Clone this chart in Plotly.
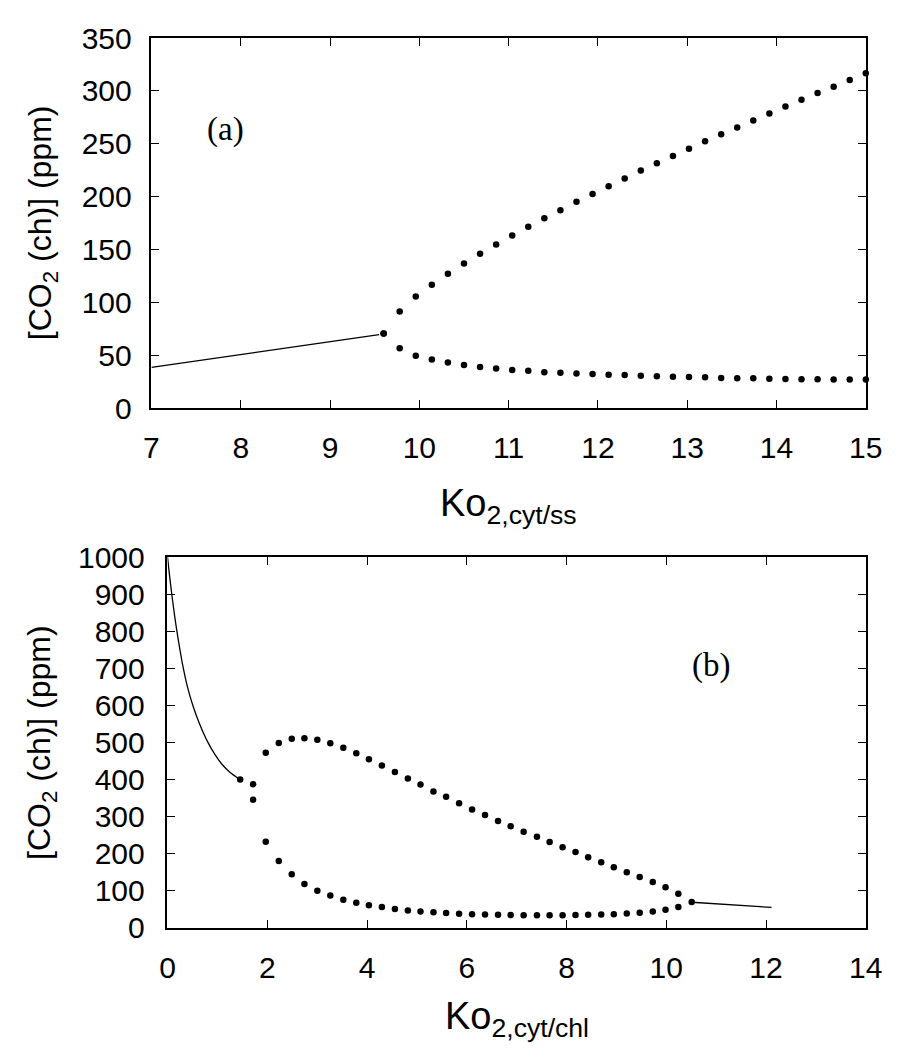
import plotly.graph_objects as go

W, H = 911, 1061

# ---------------- Panel (a) data ----------------
a_line_x = [7.0, 8.0, 9.0, 9.55]
a_line_y = [38.5, 50.6, 62.7, 69.4]

a_branch_x = [9.60, 9.78, 9.96, 10.14, 10.32, 10.50, 10.68, 10.86, 11.04, 11.22,
              11.40, 11.58, 11.76, 11.94, 12.12, 12.30, 12.48, 12.66, 12.84, 13.02,
              13.20, 13.38, 13.56, 13.74, 13.92, 14.10, 14.28, 14.46, 14.64, 14.82, 15.00]
a_upper_y = [70.5, 91.2, 105.5, 116.7, 127.1, 136.8, 145.9, 154.7, 163.2, 171.4,
             179.6, 187.2, 195.1, 202.4, 209.7, 217.0, 224.6, 231.6, 238.3, 245.3,
             252.3, 259.0, 265.3, 272.0, 278.7, 285.1, 291.5, 297.9, 303.9, 310.3, 316.7]
a_lower_y = [70.5, 56.6, 49.5, 45.9, 43.1, 40.7, 38.8, 37.3, 36.1, 35.2,
             33.9, 33.3, 32.7, 32.1, 31.5, 31.2, 30.6, 30.0, 29.7, 29.4,
             29.1, 28.4, 28.1, 28.1, 27.8, 27.5, 27.2, 27.2, 26.9, 26.9, 26.9]

# ---------------- Panel (b) data ----------------
b_curve_x = [0.0, 0.05, 0.10, 0.15, 0.20, 0.25, 0.30, 0.40, 0.52, 0.65, 0.80, 0.95, 1.10, 1.25, 1.457]
b_curve_y = [1000, 940, 885, 835, 790, 750, 712, 650, 595, 548, 503, 468, 440, 420, 400]

b_tail_x = [10.51, 11.0, 11.5, 12.11]
b_tail_y = [69.0, 64.5, 60.0, 55.0]

b_branch_x = [1.717, 1.970, 2.231, 2.491, 2.745, 3.004, 3.264, 3.525, 3.785, 4.038,
              4.298, 4.559, 4.819, 5.072, 5.332, 5.586, 5.846, 6.106, 6.366, 6.627,
              6.880, 7.140, 7.407, 7.661, 7.921, 8.180, 8.434, 8.695, 8.948, 9.208,
              9.467, 9.729, 9.985, 10.242]
b_upper_y = [387.3, 472.6, 498.7, 510.0, 511.7, 507.4, 497.9, 485.6, 470.8, 455.1,
             437.7, 420.4, 402.9, 386.4, 368.1, 353.4, 336.0, 319.4, 304.6, 288.0,
             274.2, 259.4, 245.4, 231.5, 217.6, 204.5, 190.6, 176.7, 163.6, 150.3,
             137.1, 124.0, 109.7, 92.0]
b_lower_y = [345.5, 232.4, 180.2, 144.5, 118.4, 100.0, 87.0, 76.0, 68.0, 61.0,
             56.0, 51.0, 47.0, 44.0, 42.0, 40.0, 38.0, 37.0, 36.0, 35.0,
             34.5, 34.0, 34.0, 34.0, 34.0, 34.5, 35.0, 36.0, 37.0, 39.0,
             41.0, 44.0, 49.0, 56.0]
b_bif_x = [1.457, 10.509]
b_bif_y = [400.0, 69.6]

a_xticks = [7, 8, 9, 10, 11, 12, 13, 14, 15]
a_yticks = [0, 50, 100, 150, 200, 250, 300, 350]
b_xticks = [0, 2, 4, 6, 8, 10, 12, 14]
b_yticks = [0, 100, 200, 300, 400, 500, 600, 700, 800, 900, 1000]

FONT = "Liberation Sans, Arial, Helvetica, sans-serif"
SERIF = "Liberation Serif, Times New Roman, serif"
TICKFONT = dict(family=FONT, size=30, color="black")
LINE = dict(color="black", width=1.3)
MARK = dict(color="black", size=6.5, symbol="circle")


def px_x(p):
    return p / W


def px_y(p):
    return 1 - p / H


fig = go.Figure()

# panel (a)
fig.add_trace(go.Scatter(x=a_line_x, y=a_line_y, mode="lines", line=LINE,
                         xaxis="x", yaxis="y", showlegend=False))
fig.add_trace(go.Scatter(x=a_branch_x, y=a_upper_y, mode="markers", marker=MARK,
                         xaxis="x", yaxis="y", showlegend=False, cliponaxis=False))
fig.add_trace(go.Scatter(x=a_branch_x, y=a_lower_y, mode="markers", marker=MARK,
                         xaxis="x", yaxis="y", showlegend=False, cliponaxis=False))

# panel (b)
fig.add_trace(go.Scatter(x=b_curve_x, y=b_curve_y, mode="lines",
                         line=dict(color="black", width=1.3, shape="spline", smoothing=0.8),
                         xaxis="x2", yaxis="y2", showlegend=False))
fig.add_trace(go.Scatter(x=b_tail_x, y=b_tail_y, mode="lines", line=LINE,
                         xaxis="x2", yaxis="y2", showlegend=False))
fig.add_trace(go.Scatter(x=b_branch_x, y=b_upper_y, mode="markers", marker=MARK,
                         xaxis="x2", yaxis="y2", showlegend=False, cliponaxis=False))
fig.add_trace(go.Scatter(x=b_branch_x, y=b_lower_y, mode="markers", marker=MARK,
                         xaxis="x2", yaxis="y2", showlegend=False, cliponaxis=False))
fig.add_trace(go.Scatter(x=b_bif_x, y=b_bif_y, mode="markers", marker=MARK,
                         xaxis="x2", yaxis="y2", showlegend=False, cliponaxis=False))

axis_common = dict(showline=True, linecolor="black", linewidth=1.5, mirror="ticks",
                   ticks="inside", ticklen=8, tickwidth=1, tickcolor="black",
                   showgrid=False, zeroline=False, tickfont=TICKFONT,
                   ticklabelstandoff=12)

fig.update_layout(
    width=W, height=H,
    margin=dict(l=0, r=0, t=0, b=0),
    paper_bgcolor="white", plot_bgcolor="white",
    xaxis=dict(axis_common, domain=[px_x(147.5), px_x(882)], range=[7, 15],
               tickvals=a_xticks, anchor="y"),
    yaxis=dict(axis_common, domain=[px_y(404), px_y(21.7)], range=[0, 350],
               tickvals=a_yticks, anchor="x"),
    xaxis2=dict(axis_common, domain=[px_x(164), px_x(882)], range=[0, 14],
                tickvals=b_xticks, anchor="y2"),
    yaxis2=dict(axis_common, domain=[px_y(941), px_y(558)], range=[0, 1000],
                tickvals=b_yticks, anchor="x2", ticklabelstandoff=15),
)

YT_FONT = dict(family=FONT, size=32, color="black")
XT_FONT = dict(family=FONT, size=38, color="black")
ann = []
ann.append(dict(text="[CO<sub>2</sub> (ch)] (ppm)", xref="paper", yref="paper",
                x=px_x(35), y=px_y(213), textangle=-90, showarrow=False,
                xanchor="center", yanchor="middle", font=YT_FONT))
ann.append(dict(text="[CO<sub>2</sub> (ch)] (ppm)", xref="paper", yref="paper",
                x=px_x(35), y=px_y(750), textangle=-90, showarrow=False,
                xanchor="center", yanchor="middle", font=YT_FONT))
ann.append(dict(text="Ko<sub>2,cyt/ss</sub>", xref="paper", yref="paper",
                x=px_x(515), y=px_y(505), showarrow=False,
                xanchor="center", yanchor="middle", font=XT_FONT))
ann.append(dict(text="Ko<sub>2,cyt/chl</sub>", xref="paper", yref="paper",
                x=px_x(523), y=px_y(1035), showarrow=False,
                xanchor="center", yanchor="middle", font=XT_FONT))
ann.append(dict(text="(a)", xref="x", yref="y", x=7.83, y=263, showarrow=False,
                xanchor="center", yanchor="middle", font=dict(family=SERIF, size=33, color="black")))
ann.append(dict(text="(b)", xref="x2", yref="y2", x=10.89, y=707, showarrow=False,
                xanchor="center", yanchor="middle", font=dict(family=SERIF, size=33, color="black")))
fig.update_layout(annotations=ann)

fig.write_html("out.html")
